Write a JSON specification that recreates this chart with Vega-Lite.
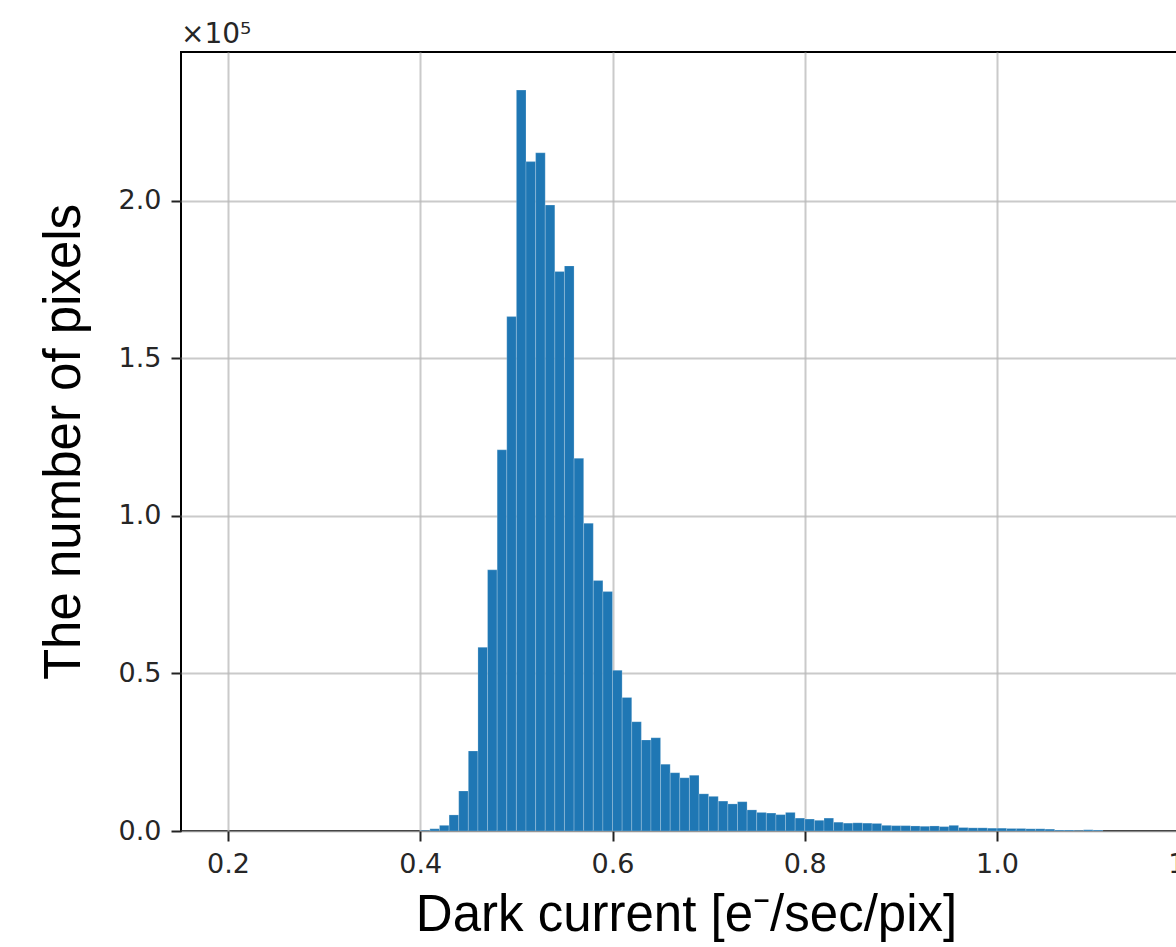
{
  "$schema": "https://vega.github.io/schema/vega-lite/v6.json",
  "autosize": "none",
  "padding": {"left": 181, "top": 52, "right": -15, "bottom": 116},
  "width": 1010,
  "height": 779,
  "background": "white",
  "title": {
    "text": "×10⁵",
    "anchor": "start",
    "frame": "group",
    "font": "DejaVu Sans",
    "fontSize": 28,
    "fontWeight": "normal",
    "color": "#262626",
    "offset": 3
  },
  "config": {
    "view": {"stroke": "black", "strokeWidth": 2},
    "axis": {
      "domain": false,
      "labelFont": "DejaVu Sans",
      "labelFontSize": 27,
      "labelColor": "#262626",
      "tickColor": "#222222",
      "tickWidth": 2,
      "tickSize": 10,
      "labelPadding": 10,
      "grid": true,
      "gridColor": "#b8b8b8",
      "gridOpacity": 0.75,
      "gridWidth": 2,
      "titleFont": "Liberation Sans",
      "titleFontSize": 51,
      "titleFontWeight": "normal",
      "titleColor": "black",
      "zindex": 1
    }
  },
  "data": {
    "values": [
      {"lo": 0.40, "hi": 0.41, "count": 200},
      {"lo": 0.41, "hi": 0.42, "count": 700},
      {"lo": 0.42, "hi": 0.43, "count": 1800},
      {"lo": 0.43, "hi": 0.44, "count": 5100},
      {"lo": 0.44, "hi": 0.45, "count": 12700},
      {"lo": 0.45, "hi": 0.46, "count": 25400},
      {"lo": 0.46, "hi": 0.47, "count": 58300},
      {"lo": 0.47, "hi": 0.48, "count": 82900},
      {"lo": 0.48, "hi": 0.49, "count": 121000},
      {"lo": 0.49, "hi": 0.50, "count": 163300},
      {"lo": 0.50, "hi": 0.51, "count": 235200},
      {"lo": 0.51, "hi": 0.52, "count": 212500},
      {"lo": 0.52, "hi": 0.53, "count": 215300},
      {"lo": 0.53, "hi": 0.54, "count": 198700},
      {"lo": 0.54, "hi": 0.55, "count": 177600},
      {"lo": 0.55, "hi": 0.56, "count": 179400},
      {"lo": 0.56, "hi": 0.57, "count": 118300},
      {"lo": 0.57, "hi": 0.58, "count": 97700},
      {"lo": 0.58, "hi": 0.59, "count": 79500},
      {"lo": 0.59, "hi": 0.60, "count": 76000},
      {"lo": 0.60, "hi": 0.61, "count": 51000},
      {"lo": 0.61, "hi": 0.62, "count": 42400},
      {"lo": 0.62, "hi": 0.63, "count": 34700},
      {"lo": 0.63, "hi": 0.64, "count": 28900},
      {"lo": 0.64, "hi": 0.65, "count": 29600},
      {"lo": 0.65, "hi": 0.66, "count": 21200},
      {"lo": 0.66, "hi": 0.67, "count": 18500},
      {"lo": 0.67, "hi": 0.68, "count": 16900},
      {"lo": 0.68, "hi": 0.69, "count": 17700},
      {"lo": 0.69, "hi": 0.70, "count": 11800},
      {"lo": 0.70, "hi": 0.71, "count": 11000},
      {"lo": 0.71, "hi": 0.72, "count": 9500},
      {"lo": 0.72, "hi": 0.73, "count": 8600},
      {"lo": 0.73, "hi": 0.74, "count": 9300},
      {"lo": 0.74, "hi": 0.75, "count": 6700},
      {"lo": 0.75, "hi": 0.76, "count": 5900},
      {"lo": 0.76, "hi": 0.77, "count": 5700},
      {"lo": 0.77, "hi": 0.78, "count": 5200},
      {"lo": 0.78, "hi": 0.79, "count": 5900},
      {"lo": 0.79, "hi": 0.80, "count": 4100},
      {"lo": 0.80, "hi": 0.81, "count": 3800},
      {"lo": 0.81, "hi": 0.82, "count": 3400},
      {"lo": 0.82, "hi": 0.83, "count": 4100},
      {"lo": 0.83, "hi": 0.84, "count": 2800},
      {"lo": 0.84, "hi": 0.85, "count": 2500},
      {"lo": 0.85, "hi": 0.86, "count": 2600},
      {"lo": 0.86, "hi": 0.87, "count": 2500},
      {"lo": 0.87, "hi": 0.88, "count": 2400},
      {"lo": 0.88, "hi": 0.89, "count": 1800},
      {"lo": 0.89, "hi": 0.90, "count": 1700},
      {"lo": 0.90, "hi": 0.91, "count": 1700},
      {"lo": 0.91, "hi": 0.92, "count": 1600},
      {"lo": 0.92, "hi": 0.93, "count": 1500},
      {"lo": 0.93, "hi": 0.94, "count": 1600},
      {"lo": 0.94, "hi": 0.95, "count": 1400},
      {"lo": 0.95, "hi": 0.96, "count": 1800},
      {"lo": 0.96, "hi": 0.97, "count": 1100},
      {"lo": 0.97, "hi": 0.98, "count": 1000},
      {"lo": 0.98, "hi": 0.99, "count": 1000},
      {"lo": 0.99, "hi": 1.00, "count": 900},
      {"lo": 1.00, "hi": 1.01, "count": 900},
      {"lo": 1.01, "hi": 1.02, "count": 800},
      {"lo": 1.02, "hi": 1.03, "count": 800},
      {"lo": 1.03, "hi": 1.04, "count": 700},
      {"lo": 1.04, "hi": 1.05, "count": 700},
      {"lo": 1.05, "hi": 1.06, "count": 600},
      {"lo": 1.06, "hi": 1.07, "count": 300},
      {"lo": 1.07, "hi": 1.08, "count": 300},
      {"lo": 1.08, "hi": 1.09, "count": 200},
      {"lo": 1.09, "hi": 1.10, "count": 400},
      {"lo": 1.10, "hi": 1.11, "count": 300}
    ]
  },
  "mark": {"type": "rect", "color": "#1f77b4", "stroke": "white", "strokeWidth": 0.6, "strokeOpacity": 0.35},
  "encoding": {
    "x": {
      "field": "lo",
      "type": "quantitative",
      "scale": {"domain": [0.1511, 1.2018], "nice": false, "zero": false},
      "axis": {
        "values": [0.2, 0.4, 0.6, 0.8, 1.0, 1.2],
        "format": ".1f",
        "title": "Dark current [e⁻/sec/pix]",
        "titlePadding": 13
      }
    },
    "x2": {"field": "hi"},
    "y": {
      "field": "count",
      "type": "quantitative",
      "scale": {"domain": [0, 247300], "nice": false},
      "axis": {
        "values": [0, 50000, 100000, 150000, 200000],
        "labelExpr": "format(datum.value / 100000, '.1f')",
        "title": "The number of pixels",
        "titlePadding": 28
      }
    },
    "y2": {"datum": 0}
  }
}
